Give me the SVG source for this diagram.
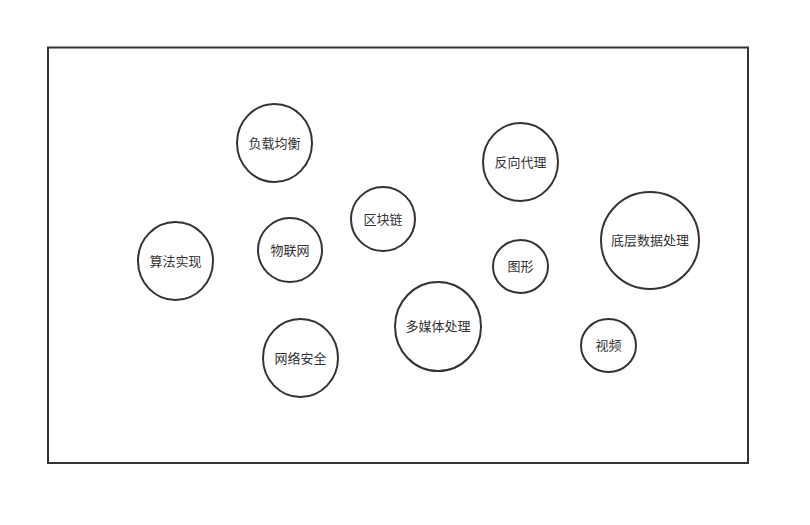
<svg xmlns="http://www.w3.org/2000/svg" width="810" height="525" viewBox="0 0 810 525">
<style>
.n{fill:#fff;stroke:#333;stroke-width:2}
.t{font-family:"Liberation Sans","Noto Sans CJK SC",sans-serif;font-size:13px;fill:#333;text-anchor:middle;dominant-baseline:central}
</style>
<rect x="0" y="0" width="810" height="525" fill="#fff"/>
<rect id="frame" x="48" y="47.5" width="700" height="415.5" fill="#fff" stroke="#333" stroke-width="2"/>
<g id="connectors"></g>
<g id="n1"><ellipse class="n" cx="274.5" cy="143" rx="37.5" ry="39"/><text class="t" x="274.5" y="143">负载均衡</text></g>
<g id="n2"><ellipse class="n" cx="175.5" cy="261" rx="37.5" ry="39"/><text class="t" x="175.5" y="261">算法实现</text></g>
<g id="n3"><ellipse class="n" cx="290" cy="250" rx="32" ry="32"/><text class="t" x="290" y="250">物联网</text></g>
<g id="n4"><ellipse class="n" cx="383" cy="219" rx="32" ry="32"/><text class="t" x="383" y="219">区块链</text></g>
<g id="n5"><ellipse class="n" cx="520.5" cy="162" rx="37.5" ry="39"/><text class="t" x="520.5" y="162">反向代理</text></g>
<g id="n6"><ellipse class="n" cx="520.5" cy="266.5" rx="27.5" ry="26.5"/><text class="t" x="520.5" y="266.5">图形</text></g>
<g id="n7"><ellipse class="n" cx="438" cy="326.5" rx="43" ry="44.5"/><text class="t" x="438" y="326.5">多媒体处理</text></g>
<g id="n8"><ellipse class="n" cx="300.5" cy="358" rx="37.5" ry="39"/><text class="t" x="300.5" y="358">网络安全</text></g>
<g id="n9"><ellipse class="n" cx="650" cy="240.5" rx="49" ry="48.5"/><text class="t" x="650" y="240.5">底层数据处理</text></g>
<g id="n10"><ellipse class="n" cx="608.5" cy="345.5" rx="27.5" ry="26.5"/><text class="t" x="608.5" y="345.5">视频</text></g>
</svg>
